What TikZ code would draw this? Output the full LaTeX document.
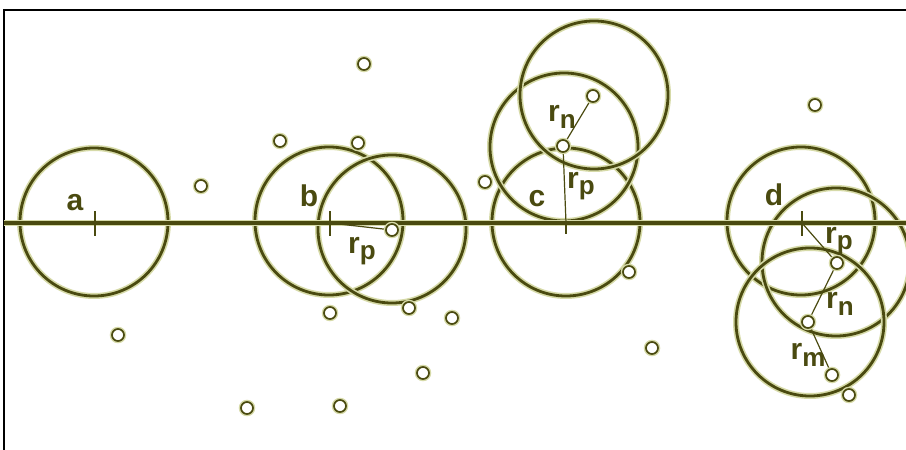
\documentclass[tikz,border=0pt]{standalone}
\usepackage{fontspec}
\setmainfont{Liberation Sans}
\definecolor{ol}{RGB}{74,74,16}
\definecolor{fz}{RGB}{214,218,168}
\newcommand{\rsub}[1]{r\raisebox{-0.4ex}{\fontsize{26}{26}\selectfont #1}}
\tikzset{
 bigc/.style={circle, draw=ol, line width=2.8pt, minimum size=148pt, inner sep=0pt, preaction={draw=fz, line width=6pt}},
 dotc/.style={circle, draw=ol, line width=1.7pt, minimum size=12pt, inner sep=0pt, fill=white, preaction={draw=fz, line width=4.5pt}},
 rad/.style={draw=ol, line width=1.2pt},
 tickmark/.style={draw=ol, line width=2.8pt},
 axis/.style={draw=ol, line width=3.8pt, preaction={draw=fz, line width=6pt}},
 lab/.style={text=ol, font=\bfseries\fontsize{30}{30}\selectfont, inner sep=0pt},
 frameline/.style={draw=black, line width=1.5pt},
}
\begin{document}
\begin{tikzpicture}[x=1pt,y=-1pt]
\useasboundingbox (0,0) rectangle (906,450);
% frame
\coordinate (f1) at (906,10);
\coordinate (f2) at (4,10);
\coordinate (f3) at (4,450);
\draw[frameline] (f1) -- (f2) -- (f3);
% big circles
\node[bigc] (ca) at (94,222) {};
\node[bigc] (cb1) at (329,221) {};
\node[bigc] (cb2) at (392,229) {};
\node[bigc] (cc1) at (566,222) {};
\node[bigc] (cc2) at (564,147) {};
\node[bigc] (cc3) at (594,95) {};
\node[bigc] (cd1) at (801,221) {};
\node[bigc] (cd2) at (836,262) {};
\node[bigc] (cd3) at (810,322) {};
% axis
\coordinate (h1) at (4,223);
\coordinate (h2) at (906,223);
\draw[axis] (h1) -- (h2);
% ticks
\coordinate (ta1) at (95,211);
\coordinate (ta2) at (95,236);
\draw[tickmark] (ta1) -- (ta2);
\coordinate (tb) at (330,223);
\coordinate (tb1) at (330,211);
\coordinate (tb2) at (330,236);
\draw[tickmark] (tb1) -- (tb2);
\coordinate (tc) at (566,223);
\coordinate (tc2) at (566,234);
\draw[tickmark] (tc) -- (tc2);
\coordinate (td) at (802,223);
\coordinate (td1) at (802,211);
\coordinate (td2) at (802,236);
\draw[tickmark] (td1) -- (td2);
% radius lines
\coordinate (db2c) at (392,230);
\coordinate (dc2c) at (563,146);
\coordinate (dc3c) at (593,96);
\coordinate (dd2c) at (837,263);
\coordinate (dd3c) at (808,322);
\coordinate (dd4c) at (832,375);
\draw[rad] (tb) -- (db2c);
\draw[rad] (tc) -- (dc2c);
\draw[rad] (dc2c) -- (dc3c);
\draw[rad] (td) -- (dd2c);
\draw[rad] (dd2c) -- (dd3c);
\draw[rad] (dd3c) -- (dd4c);
% dots on radius lines
\node[dotc] (db2) at (db2c) {};
\node[dotc] (dc2) at (dc2c) {};
\node[dotc] (dc3) at (dc3c) {};
\node[dotc] (dd2) at (dd2c) {};
\node[dotc] (dd3) at (dd3c) {};
\node[dotc] (dd4) at (dd4c) {};
% scattered dots
\node[dotc] (p1) at (849,395) {};
\node[dotc] (p2) at (201,186) {};
\node[dotc] (p3) at (118,335) {};
\node[dotc] (p4) at (364,64) {};
\node[dotc] (p5) at (280,141) {};
\node[dotc] (p6) at (358,143) {};
\node[dotc] (p7) at (330,313) {};
\node[dotc] (p8) at (409,308) {};
\node[dotc] (p9) at (452,318) {};
\node[dotc] (p10) at (423,373) {};
\node[dotc] (p11) at (247,408) {};
\node[dotc] (p12) at (340,406) {};
\node[dotc] (p13) at (485,182) {};
\node[dotc] (p14) at (629,272) {};
\node[dotc] (p15) at (652,348) {};
\node[dotc] (p16) at (815,105) {};
% labels
\node[lab] (la) at (75,203) {a};
\node[lab] (lb) at (309,196) {b};
\node[lab] (lbp) at (362,251) {\rsub{p}};
\node[lab] (lc) at (537,199) {c};
\node[lab] (lcp) at (581,186) {\rsub{p}};
\node[lab] (lcn) at (562,117) {\rsub{n}};
\node[lab] (ld) at (774,195) {d};
\node[lab] (ldp) at (839,241) {\rsub{p}};
\node[lab] (ldn) at (840,304) {\rsub{n}};
\node[lab] (ldm) at (808,355) {\rsub{m}};
\end{tikzpicture}
\end{document}
